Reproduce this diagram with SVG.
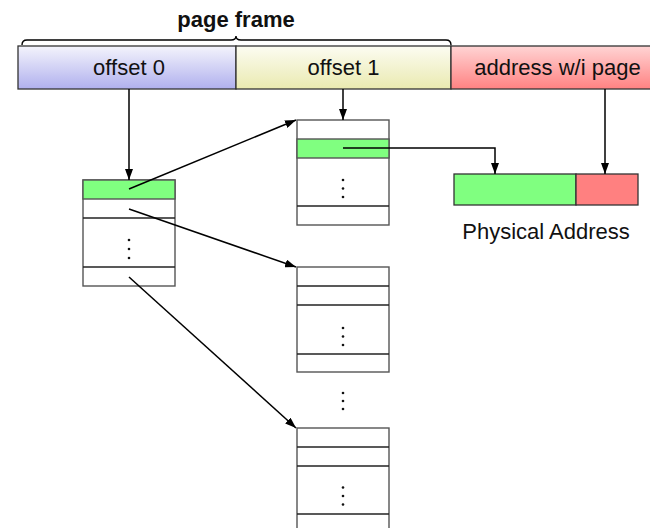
<svg xmlns="http://www.w3.org/2000/svg" width="650" height="528" viewBox="0 0 650 528">
<defs>
<linearGradient id="gBlue" x1="0" y1="0" x2="0" y2="1"><stop offset="0" stop-color="#f4f4fc"/><stop offset="1" stop-color="#b0b0ee"/></linearGradient>
<linearGradient id="gYellow" x1="0" y1="0" x2="0" y2="1"><stop offset="0" stop-color="#fcfcf2"/><stop offset="1" stop-color="#eaeab0"/></linearGradient>
<linearGradient id="gRed" x1="0" y1="0" x2="0" y2="1"><stop offset="0" stop-color="#ffd4d4"/><stop offset="1" stop-color="#ff8282"/></linearGradient>
<marker id="ah" viewBox="0 0 11 8" refX="11" refY="4" markerWidth="11" markerHeight="8" markerUnits="userSpaceOnUse" orient="auto">
<path d="M0,0 L11,4 L0,8 Z" fill="#000"/>
</marker>
<style>
text{font-family:"Liberation Sans",Arial,sans-serif;fill:#111}
.lbl{font-size:22px;text-anchor:middle}
.cell{stroke:#555;stroke-width:1.4;fill:#fff}
.green{fill:#80ff80}
.sep{stroke:#222;stroke-width:1.6}
.dot{fill:#111}
.conn{stroke:#000;stroke-width:1.5;fill:none;marker-end:url(#ah)}
.bar{stroke:#333;stroke-width:1.3}
</style>
</defs>

<g id="brace">
<path d="M22,45 Q22,40 27,40 L231,40 Q236,40 236,36 Q236,40 241,40 L446,40 Q451,40 451,45" fill="none" stroke="#000" stroke-width="1.4"/>
<text x="236" y="27" class="lbl" font-weight="bold">page frame</text>
</g>

<g id="offset0">
<rect x="18" y="46" width="218" height="43" fill="url(#gBlue)" class="bar"/>
<text x="129" y="75" class="lbl">offset 0</text>
</g>
<g id="offset1">
<rect x="236" y="46" width="215" height="43" fill="url(#gYellow)" class="bar"/>
<text x="343.5" y="75" class="lbl">offset 1</text>
</g>
<g id="addr">
<rect x="451" y="46" width="213" height="43" fill="url(#gRed)" class="bar"/>
<text x="557.5" y="75" class="lbl">address w/i page</text>
</g>

<g id="stackL">
<rect x="83" y="180" width="92" height="106" class="cell"/>
<rect x="83" y="180" width="92" height="19" class="cell green"/>
<line x1="83" y1="218" x2="175" y2="218" class="sep"/>
<line x1="83" y1="267" x2="175" y2="267" class="sep"/>
<circle cx="129" cy="240" r="1.3" class="dot"/><circle cx="129" cy="249" r="1.3" class="dot"/><circle cx="129" cy="258" r="1.3" class="dot"/>
</g>

<g id="stackT">
<rect x="297" y="120" width="92" height="105" class="cell"/>
<rect x="297" y="139" width="92" height="19" class="cell green"/>
<line x1="297" y1="206" x2="389" y2="206" class="sep"/>
<circle cx="343" cy="180" r="1.3" class="dot"/><circle cx="343" cy="188.5" r="1.3" class="dot"/><circle cx="343" cy="197" r="1.3" class="dot"/>
</g>

<g id="stackM">
<rect x="297" y="267" width="92" height="105" class="cell"/>
<line x1="297" y1="286" x2="389" y2="286" class="sep"/>
<line x1="297" y1="305" x2="389" y2="305" class="sep"/>
<line x1="297" y1="354" x2="389" y2="354" class="sep"/>
<circle cx="343" cy="328" r="1.3" class="dot"/><circle cx="343" cy="336.5" r="1.3" class="dot"/><circle cx="343" cy="345" r="1.3" class="dot"/>
</g>

<g id="vdots">
<circle cx="343" cy="393" r="1.3" class="dot"/><circle cx="343" cy="401" r="1.3" class="dot"/><circle cx="343" cy="409" r="1.3" class="dot"/>
</g>

<g id="stackB">
<rect x="297" y="428" width="92" height="106" class="cell"/>
<line x1="297" y1="447" x2="389" y2="447" class="sep"/>
<line x1="297" y1="466" x2="389" y2="466" class="sep"/>
<line x1="297" y1="514" x2="389" y2="514" class="sep"/>
<circle cx="343" cy="487.5" r="1.3" class="dot"/><circle cx="343" cy="496" r="1.3" class="dot"/><circle cx="343" cy="504.5" r="1.3" class="dot"/>
</g>

<g id="physical">
<rect x="454" y="174" width="122" height="31" fill="#80ff80" class="bar"/>
<rect x="576" y="174" width="62" height="31" fill="#ff8080" class="bar"/>
<text x="546" y="239" class="lbl">Physical Address</text>
</g>

<g id="connectors">
<line x1="129" y1="89" x2="129" y2="180" class="conn"/>
<line x1="343" y1="89" x2="343" y2="120" class="conn"/>
<line x1="605" y1="89" x2="605" y2="174" class="conn"/>
<line x1="129" y1="189" x2="296" y2="120" class="conn"/>
<line x1="129" y1="209" x2="296" y2="267" class="conn"/>
<line x1="129" y1="277" x2="296" y2="428" class="conn"/>
<path d="M343,148 L495,148 L495,174" class="conn"/>
</g>
</svg>
